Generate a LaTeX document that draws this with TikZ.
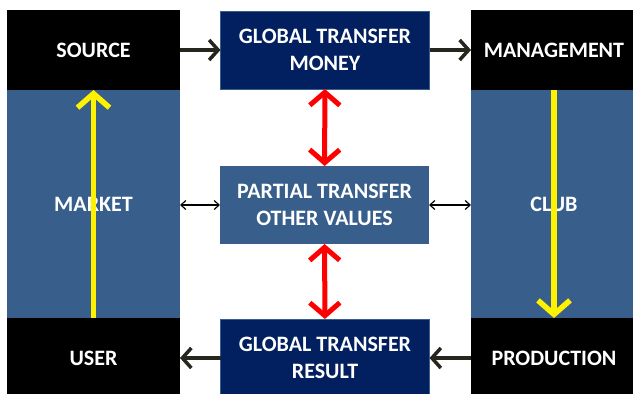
\documentclass[tikz,border=0pt]{standalone}
\usepackage{fontspec}
\setsansfont{Carlito}
\usepackage{xcolor}
\usepackage{tikz}
\usetikzlibrary{arrows.meta,positioning}
\definecolor{colblue}{RGB}{56,94,140}
\definecolor{navy}{RGB}{2,32,96}
\definecolor{darkline}{RGB}{38,38,30}

\begin{document}
\begin{tikzpicture}[
  x=1pt, y=-1pt,
  node distance=0pt,
  box/.style={outer sep=0pt, inner sep=2pt, align=center, text=white,
    font=\sffamily\bfseries\fontsize{22}{27}\selectfont},
  blackbox/.style={box, fill=black, minimum width=173pt, minimum height=80pt},
  colbox/.style={box, fill=colblue, minimum width=173pt, minimum height=228pt},
  midbox/.style={box, fill=navy, draw=colblue, line width=1pt, minimum width=209pt, minimum height=78pt},
  flow/.style={-{Straight Barb[length=9pt,width=20pt]}, line width=3.5pt, darkline},
  swap/.style={{Straight Barb[length=5pt,width=9pt]}-{Straight Barb[length=5pt,width=9pt]}, line width=1.2pt, black},
  link/.style={{Straight Barb[length=13pt,width=30pt]}-{Straight Barb[length=13pt,width=30pt]}, line width=5pt, red},
  cycle/.style={-{Straight Barb[length=14pt,width=32pt]}, line width=5.5pt, yellow}
]
  \useasboundingbox (0,0) rectangle (633,394);
  \clip (0,0) rectangle (633,394);

  \node[blackbox, anchor=north west] (source) at (7,10) {SOURCE};
  \node[colbox, below=of source] (market) {MARKET};
  \node[blackbox, below=of market] (user) {USER};

  \node[blackbox, anchor=north west, minimum width=166pt] (management) at (471,10) {MANAGEMENT};
  \node[colbox, below=of management, minimum width=166pt] (club) {CLUB};
  \node[blackbox, below=of club, minimum width=166pt] (production) {PRODUCTION};

  \node[midbox, anchor=north west] (gtmoney) at (220.5,11) {GLOBAL TRANSFER\\MONEY};
  \node[midbox, anchor=north west, fill=colblue, draw=none] (ptvalues) at (220,166) {PARTIAL TRANSFER\\OTHER VALUES};
  \node[midbox, anchor=north west] (gtresult) at (220.5,319) {GLOBAL TRANSFER\\RESULT};

  \draw[flow] (source) -- (gtmoney);
  \draw[flow] (gtmoney) -- (management);
  \draw[flow] (production) -- (gtresult);
  \draw[flow] (gtresult) -- (user);

  \draw[swap] (market.east |- ptvalues.west) -- (ptvalues.west);
  \draw[swap] (ptvalues.east) -- (club.west |- ptvalues.east);

  \draw[link] (gtmoney) -- (ptvalues);
  \draw[link] (ptvalues) -- (gtresult);

  \draw[cycle] (user.north) -- (source.south);
  \draw[cycle] (management.south) -- (production.north);
\end{tikzpicture}
\end{document}
